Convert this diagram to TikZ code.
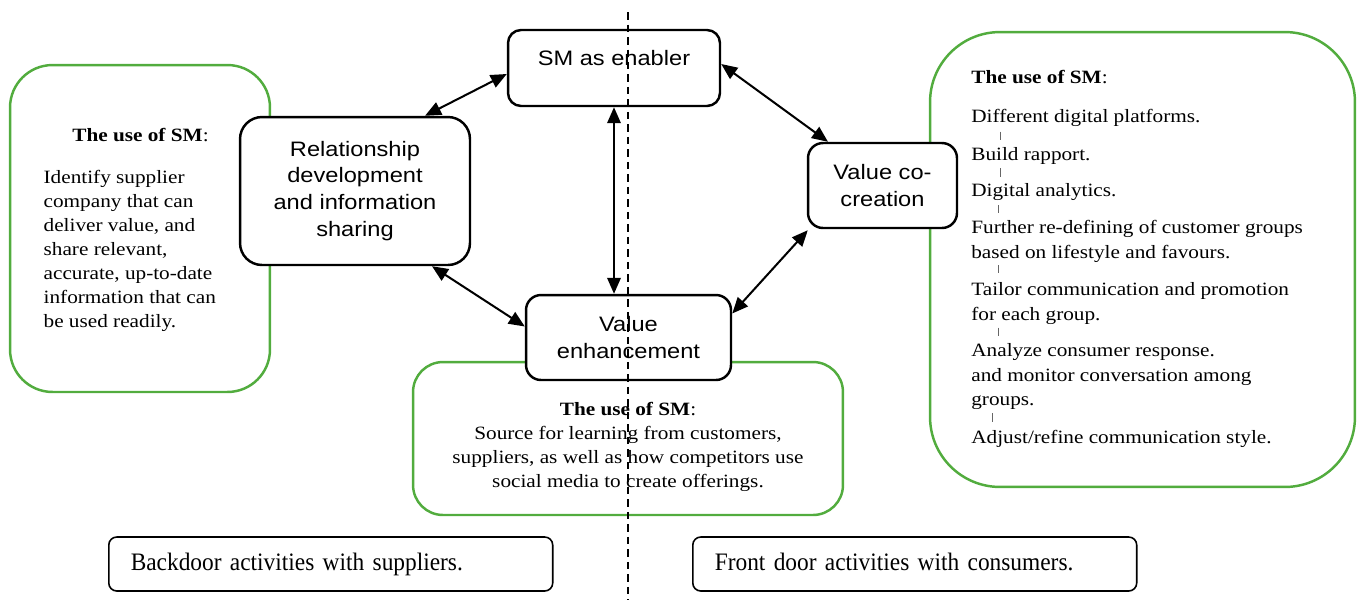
\documentclass[tikz,border=0pt]{standalone}
\usepackage{fontspec}
\setmainfont[FakeStretch=1.13]{Liberation Serif}
\setsansfont[FakeStretch=1.13]{Liberation Sans}
\newfontfamily\condserif[FakeStretch=0.93]{Liberation Serif}
\usetikzlibrary{arrows.meta,calc}
\definecolor{smgreen}{RGB}{82,172,62}
\tikzset{
  blackbox/.style={draw, line width=1.4pt, fill=white, inner sep=0pt, align=center,
    font=\sffamily\fontsize{11.9}{15.3}\selectfont},
  greenbox/.style={draw=smgreen, line width=1.4pt, inner sep=0pt},
  body/.style={inner sep=0pt, font=\rmfamily\fontsize{10.7}{13.6}\selectfont},
  doorbox/.style={draw, line width=0.9pt, rounded corners=0.16cm, fill=white,
    minimum width=8.88cm, minimum height=1.08cm, inner xsep=0.44cm, inner ysep=0pt,
    text height=0.36cm, text depth=0.12cm,
    anchor=west, text width=8.0cm, align=left, font=\condserif\fontsize{14.3}{17}\selectfont},
  dbl/.style={line width=1.15pt, {Triangle[length=0.32cm,width=0.27cm]}-{Triangle[length=0.32cm,width=0.27cm]}},
  tickline/.style={line width=0.5pt, black!60},
  divider/.style={line width=1.1pt, dash pattern=on 0.15cm off 0.1cm}
}
\begin{document}
\begin{tikzpicture}[x=0.02cm,y=-0.02cm]
\useasboundingbox (0,0) rectangle (1359,600);
% green boxes
\node[greenbox, rounded corners=0.85cm, minimum width=5.2cm, minimum height=6.54cm] (gl) at (140,228.5) {};
\node[greenbox, rounded corners=0.6cm, minimum width=8.6cm, minimum height=3.06cm] (gb) at (628,438.5) {};
\node[greenbox, rounded corners=1.4cm, minimum width=8.5cm, minimum height=9.1cm] (gr) at (1142.5,259.5) {};
% black boxes
\node[blackbox, rounded corners=0.44cm, minimum width=4.6cm, minimum height=2.96cm] (rel) at (355,191)
  {Relationship\\development\\and information\\sharing};
\node[blackbox, rounded corners=0.26cm, minimum width=4.24cm, text height=0.7cm, text depth=0.82cm] (enab) at (614,68)
  {SM as enabler};
\node[blackbox, rounded corners=0.3cm, minimum width=2.98cm, minimum height=1.7cm] (vcc) at (882.5,185.5)
  {Value co-\\creation};
\node[blackbox, rounded corners=0.3cm, minimum width=4.1cm, minimum height=1.7cm] (venh) at (628.5,337.5)
  {Value\\enhancement};
% left green text
\node[body, anchor=base west] (lt) at (72,141.7) {\textbf{The use of SM}:};
\node[body, anchor=base west] (l1) at (43.3,183.3) {Identify supplier};
\node[body, anchor=base west] (l2) at (43.3,207.4) {company that can};
\node[body, anchor=base west] (l3) at (43.3,231.5) {deliver value, and};
\node[body, anchor=base west] (l4) at (43.3,255.6) {share relevant,};
\node[body, anchor=base west] (l5) at (43.3,279.7) {accurate, up-to-date};
\node[body, anchor=base west] (l6) at (43.3,303.8) {information that can};
\node[body, anchor=base west] (l7) at (43.3,327.9) {be used readily.};
% bottom green text
\node[body, anchor=base] (bt) at (628,415) {\textbf{The use of SM}:};
\node[body, anchor=base] (b1) at (628,439.3) {Source for learning from customers,};
\node[body, anchor=base] (b2) at (628,463.3) {suppliers, as well as how competitors use};
\node[body, anchor=base] (b3) at (628,487.3) {social media to create offerings.};
% right green text
\node[body, anchor=base west] (rt) at (971,83.3) {\textbf{The use of SM}:};
\node[body, anchor=base west] (r1) at (971,122.7) {Different digital platforms.};
\node[body, anchor=base west] (r2) at (971,160) {Build rapport.};
\node[body, anchor=base west] (r3) at (971,196.7) {Digital analytics.};
\node[body, anchor=base west] (r4a) at (971,233.3) {Further re-defining of customer groups};
\node[body, anchor=base west] (r4b) at (971,258.3) {based on lifestyle and favours.};
\node[body, anchor=base west] (r5a) at (971,295) {Tailor communication and promotion};
\node[body, anchor=base west] (r5b) at (971,320) {for each group.};
\node[body, anchor=base west] (r6a) at (971,356.7) {Analyze consumer response.};
\node[body, anchor=base west] (r6b) at (971,381.7) {and monitor conversation among};
\node[body, anchor=base west] (r6c) at (971,405) {groups.};
\node[body, anchor=base west] (r7) at (971,443.3) {Adjust/refine communication style.};
% ticks between items
\draw[tickline] ($(r1.base west)+(29,9)$) -- ($(r2.base west)+(29,-20)$);
\draw[tickline] ($(r2.base west)+(29,8)$) -- ($(r3.base west)+(29,-20)$);
\draw[tickline] ($(r3.base west)+(27,8.3)$) -- ($(r4a.base west)+(27,-20.3)$);
\draw[tickline] ($(r4b.base west)+(27,6.7)$) -- ($(r5a.base west)+(27,-22)$);
\draw[tickline] ($(r5b.base west)+(27,7.7)$) -- ($(r6a.base west)+(27,-20.7)$);
\draw[tickline] ($(r6c.base west)+(21,8)$) -- ($(r7.base west)+(21,-21.6)$);
% door boxes
\node[doorbox] (back) at (108,564) {Backdoor activities with suppliers.};
\node[doorbox] (front) at (692,564) {Front door activities with consumers.};
% arrows
\draw[dbl] ($(rel.north)+(70,0)$) -- ($(enab.west)+(0,6)$);
\draw[dbl] ($(enab.east)+(0,-4)$) -- ($(vcc.north)+(-54.5,0)$);
\draw[dbl] (enab.south) -- (enab.south |- venh.north);
\draw[dbl] ($(rel.south)+(77,0)$) -- ($(venh.west)+(0,-11)$);
\draw[dbl] ($(vcc.south west)+(1,1)$) -- ($(venh.east)+(0,-24)$);
% divider
\coordinate (dtop) at (628,12);
\coordinate (dbot) at (628,600);
\draw[divider] (dtop) -- (dbot);
\end{tikzpicture}
\end{document}
